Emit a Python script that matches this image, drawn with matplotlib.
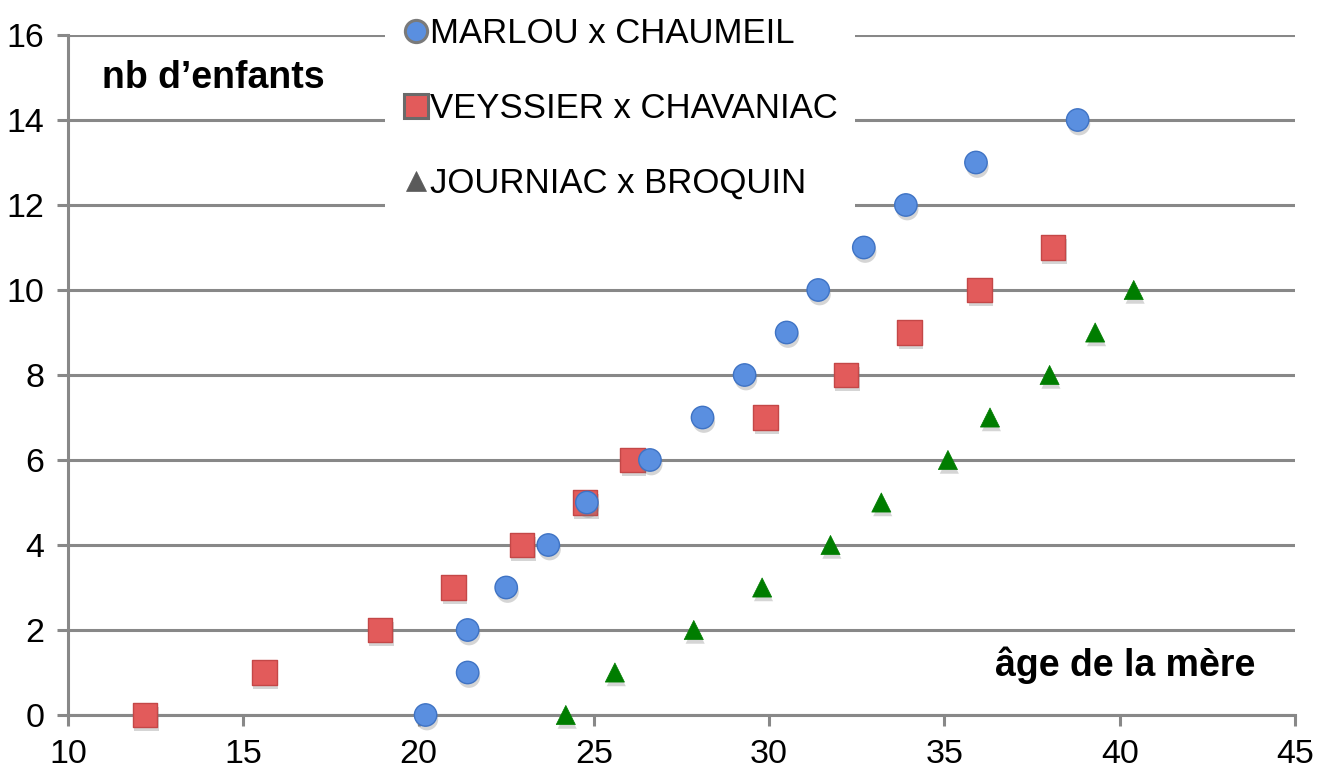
import matplotlib
matplotlib.use("Agg")
import matplotlib.pyplot as plt
from matplotlib.lines import Line2D
import matplotlib.patheffects as pe

plt.rcParams['font.family'] = ['Liberation Sans', 'DejaVu Sans']

# Age of the mother at each birth (x) and running number of children (y)
marlou_age = [20.2, 21.4, 21.4, 22.5, 23.7, 24.8, 26.6, 28.1, 29.3, 30.5, 31.4, 32.7, 33.9, 35.9, 38.8]
marlou_nb = [0, 1, 2, 3, 4, 5, 6, 7, 8, 9, 10, 11, 12, 13, 14]

veyssier_age = [12.2, 15.6, 18.9, 21.0, 22.95, 24.75, 26.1, 29.9, 32.2, 34.0, 36.0, 38.1]
veyssier_nb = [0, 1, 2, 3, 4, 5, 6, 7, 8, 9, 10, 11]

journiac_age = [24.2, 25.6, 27.85, 29.8, 31.75, 33.2, 35.1, 36.3, 38.0, 39.3, 40.4]
journiac_nb = [0, 1, 2, 3, 4, 5, 6, 7, 8, 9, 10]

series_labels = ["MARLOU x CHAUMEIL", "VEYSSIER x CHAVANIAC", "JOURNIAC x BROQUIN"]
x_ticks = [10, 15, 20, 25, 30, 35, 40, 45]
y_ticks = [0, 2, 4, 6, 8, 10, 12, 14, 16]

GRID = "#888888"
BLUE = "#5a8fe0"
BLUE_EDGE = "#3f73c4"
RED = "#e25b5b"
RED_EDGE = "#c44747"
GREEN = "#007d00"

fig = plt.figure(figsize=(13.27, 7.71), dpi=100)
ax = fig.add_axes([68 / 1327, 1 - 715 / 771, (1295 - 68) / 1327, (715 - 35) / 771])

shadow = [pe.SimplePatchShadow(offset=(1, -3), shadow_rgbFace="#777777", alpha=0.3), pe.Normal()]

ax.scatter(marlou_age, marlou_nb, s=260, marker="o", color=BLUE, edgecolors=BLUE_EDGE,
           linewidths=1, zorder=4, clip_on=False, path_effects=shadow)
ax.scatter(veyssier_age, veyssier_nb, s=310, marker="s", color=RED, edgecolors=RED_EDGE,
           linewidths=1, zorder=3, clip_on=False, path_effects=shadow)
ax.scatter(journiac_age, journiac_nb, s=190, marker="^", color=GREEN, edgecolors=GREEN,
           linewidths=0.5, zorder=3, clip_on=False, path_effects=shadow)

ax.set_xlim(10, 45)
ax.set_ylim(0, 16)
ax.set_xticks(x_ticks)
ax.set_yticks(y_ticks)
ax.set_xticklabels([str(v) for v in x_ticks])
ax.set_yticklabels([str(v) for v in y_ticks])

ax.grid(axis="y", color=GRID, linewidth=2.2, zorder=1)
ax.set_axisbelow(True)
for side in ("top", "right"):
    ax.spines[side].set_visible(False)
for side in ("left", "bottom"):
    ax.spines[side].set_color(GRID)
    ax.spines[side].set_linewidth(2.2)
ax.tick_params(axis="both", colors=GRID, width=2.2, length=8, labelcolor="black", labelsize=24.5)
ax.tick_params(axis="x", pad=9)
ax.tick_params(axis="y", pad=9)

ax.text(10.97, 15.0, "nb d\u2019enfants", fontsize=27, fontweight="bold", ha="left", va="center")
ax.text(43.86, 1.18, "âge de la mère", fontsize=27, fontweight="bold", ha="right", va="center")

handles = [
    Line2D([], [], linestyle="none", marker="o", markersize=16, markerfacecolor=BLUE,
           markeredgecolor="#7a7a7a", markeredgewidth=2.2),
    Line2D([], [], linestyle="none", marker="s", markersize=17, markerfacecolor=RED,
           markeredgecolor="#6a6a6a", markeredgewidth=2.2),
    Line2D([], [], linestyle="none", marker="^", markersize=15, markerfacecolor="#5a5a5a",
           markeredgecolor="#5a5a5a", markeredgewidth=0.5),
]
fig.legend(handles, series_labels, loc="upper left", bbox_to_anchor=(385 / 1327, 1.0),
           frameon=True, facecolor="white", edgecolor="none", framealpha=1, fancybox=False,
           fontsize=25, labelspacing=1.2, handlelength=0.8, handletextpad=0.0,
           borderpad=0.5, borderaxespad=0)

fig.savefig("out.png", dpi=100)
